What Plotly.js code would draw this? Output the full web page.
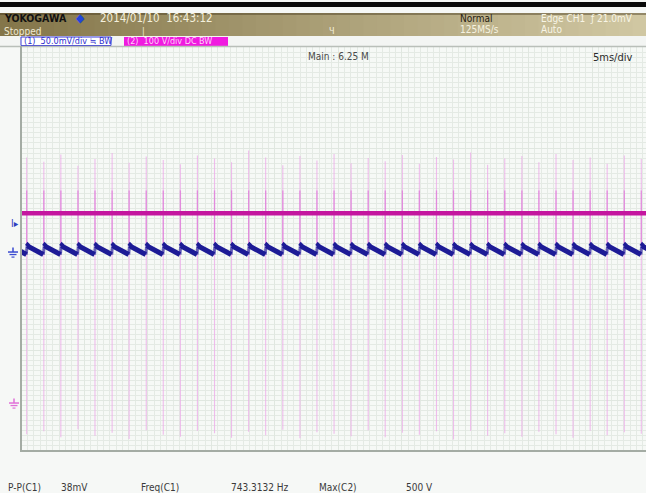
<!DOCTYPE html>
<html>
<head>
<meta charset="utf-8">
<script src="https://cdn.plot.ly/plotly-3.0.1.min.js"></script>
<style>
  html, body { margin: 0; padding: 0; background: #f6f8f6; }
  #scope { width: 646px; height: 493px; }
</style>
</head>
<body>
<div id="scope"></div>
<script>
// ---- Acquisition data ----------------------------------------------------
// Time of each switching event on screen (ms from the left edge of the grid)
const spikeTimes = [0.45, 1.80, 3.14, 4.49, 5.83, 7.18, 8.52, 9.87, 11.21, 12.56,
  13.90, 15.25, 16.59, 17.94, 19.28, 20.63, 21.98, 23.32, 24.67, 26.01,
  27.36, 28.70, 30.05, 31.39, 32.74, 34.08, 35.43, 36.77, 38.12, 39.47,
  40.81, 42.16, 43.50, 44.85, 46.19, 47.54, 48.88];

// CH2 (100 V/div): transient peak and undershoot of each event, in volts
const ch2Peak = [486, 478, 492, 470, 483, 495, 476, 488, 481, 473, 490, 484, 477,
  500, 486, 471, 489, 480, 493, 475, 485, 479, 491, 474, 487, 482, 496, 472,
  484, 489, 477, 493, 481, 486, 474, 490, 483];
const ch2Trough = [-62, -56, -68, -52, -65, -59, -71, -54, -63, -67, -55, -60, -69,
  -57, -64, -53, -70, -58, -61, -66, -54, -68, -59, -63, -56, -72, -55, -65,
  -60, -67, -57, -62, -69, -55, -64, -58, -61];
// CH2 flat level between events (V)
const ch2Level = 376;

// CH1 (50 mV/div): ripple of one switching cycle, offset after the event (ms) and value (mV)
const ch1CycleOffset = [0.02, 0.08, 0.20, 0.45, 0.80, 1.10, 1.31];
const ch1CycleValue  = [5.5, 6.5, 5, 3, 1, -1, -2.5];
// CH1 tail of the cycle preceding the first event
const ch1LeadTime  = [0, 0.43];
const ch1LeadValue = [0.5, -2.5];

// Channel settings
const ch1Scale = 50;      // mV/div
const ch2Scale = 100;     // V/div
const ch1Pos = -0.06;     // div
const ch2Pos = -3.05;     // div
const trigLevel = 21.0;   // mV on CH1
const timeSpan = 49.25;   // ms visible

// Measurement readout
const measLabels = ['P-P(C1)', '38mV', 'Freq(C1)', '743.3132 Hz', 'Max(C2)', '500 V'];

// ---- Build traces --------------------------------------------------------
const toDiv1 = v => v / ch1Scale + ch1Pos;
const toDiv2 = v => v / ch2Scale + ch2Pos;

// CH1 ripple: slow segments drawn solid, fast edges drawn lighter
const c1x = ch1LeadTime.slice(), c1y = ch1LeadValue.map(toDiv1);
const e1x = [], e1y = [];
let prevEnd = ch1LeadValue[ch1LeadValue.length - 1];
spikeTimes.forEach(t => {
  c1x.push(null); c1y.push(null);
  e1x.push(t - 0.03, t + ch1CycleOffset[0], null);
  e1y.push(toDiv1(prevEnd), toDiv1(ch1CycleValue[0]), null);
  ch1CycleOffset.forEach((o, i) => { c1x.push(t + o); c1y.push(toDiv1(ch1CycleValue[i])); });
  prevEnd = ch1CycleValue[ch1CycleValue.length - 1];
});

// CH2 switching transients (faint full excursion + brighter core near the level)
const sx = [], sy = [], cx = [], cy = [];
const lvl = toDiv2(ch2Level);
spikeTimes.forEach((t, i) => {
  sx.push(t, t, null); sy.push(toDiv2(ch2Peak[i]), toDiv2(ch2Trough[i]), null);
  cx.push(t, t, null); cy.push(lvl + 0.45, lvl - 0.6, null);
});

const traces = [
  { x: sx, y: sy, mode: 'lines', line: { color: 'rgba(236,168,232,0.75)', width: 1.1 }, hoverinfo: 'skip' },
  { x: cx, y: cy, mode: 'lines', line: { color: 'rgba(222,122,216,0.75)', width: 1.3 }, hoverinfo: 'skip' },
  { x: e1x, y: e1y, mode: 'lines', line: { color: 'rgba(45,45,160,0.7)', width: 3 }, hoverinfo: 'skip' },
  { x: c1x, y: c1y, mode: 'lines', line: { color: '#1d1b96', width: 5 }, hoverinfo: 'skip' },
  { x: [0, timeSpan], y: [lvl, lvl], mode: 'lines', line: { color: '#c4169f', width: 4.5 }, hoverinfo: 'skip' }
];

// ---- Screen furniture ----------------------------------------------------
const W = 646, H = 493;
const px = x => x / W;
const py = y => (H - y) / H;
const FONT = 'DejaVu Sans Condensed, Liberation Sans Narrow, DejaVu Sans, sans-serif';

const shapes = [];
const annotations = [];

function rect(x0, y0, x1, y1, fill, line) {
  shapes.push({ type: 'rect', xref: 'paper', yref: 'paper', x0: px(x0), x1: px(x1), y0: py(y1), y1: py(y0),
    fillcolor: fill, line: line || { width: 0 }, layer: 'below' });
}
function hline(x0, x1, y, color, w) {
  shapes.push({ type: 'line', xref: 'paper', yref: 'paper', x0: px(x0), x1: px(x1), y0: py(y), y1: py(y),
    line: { color: color, width: w } });
}
function vline(x, y0, y1, color, w) {
  shapes.push({ type: 'line', xref: 'paper', yref: 'paper', x0: px(x), x1: px(x), y0: py(y0), y1: py(y1),
    line: { color: color, width: w } });
}
function txt(text, x, y, size, color, opts) {
  annotations.push(Object.assign({ text: text, xref: 'paper', yref: 'paper', x: px(x), y: py(y),
    xanchor: 'left', yanchor: 'middle', showarrow: false, borderpad: 0,
    font: { family: FONT, size: size, color: color } }, opts || {}));
}

// top rule
rect(0, 2, W, 7, '#0a0a0a');
// status bar with a left-to-right olive gradient
const bands = 48;
const c0 = [132, 118, 74], c1 = [208, 199, 162];
for (let i = 0; i < bands; i++) {
  const f = i / (bands - 1);
  const c = c0.map((v, k) => Math.round(v + (c1[k] - v) * f));
  rect(i * W / bands, 13, (i + 1) * W / bands + 1, 36, 'rgb(' + c.join(',') + ')');
}
rect(0, 13, W, 15, 'rgba(70,58,30,0.45)');
// channel setting row
rect(0, 36, W, 46, '#f3f5f3');
rect(21, 37, 111, 45.5, '#ffffff', { color: '#3a3ad8', width: 1 });
rect(124, 37, 228, 46, '#f01ae0');
// graticule frame
hline(0, W, 46.5, '#b9bfb9', 1.5);
vline(21, 46, 452, '#a4aca4', 2);
hline(20, W, 451, '#a4aca4', 2);

// status bar text
txt('<b>YOKOGAWA</b>', 3, 18.5, 10.5, '#111111');
txt('◆', 75, 18.5, 12, '#2345d8');
txt('2014/01/10  16:43:12', 99, 18, 11.5, '#f4f0dc');
txt('Stopped', 3, 31, 10, '#efe9d2');
txt('|', 141, 31, 9, '#efe9d2');
txt('Ч', 328, 31, 9, '#f4f0dc');
txt('Normal', 459, 18.5, 10, '#262010');
txt('125MS/s', 459, 29.5, 10, '#f6f2e0');
txt('Edge CH1  ƒ 21.0mV', 540, 18.5, 10, '#f8f5e6');
txt('Auto', 540, 29.5, 10, '#f8f5e6');

// channel labels
txt('(1)  50.0mV/div ≒ BW', 23, 41.5, 9, '#2d2dd0');
txt('(2)  100 V/div DC BW', 126, 41.5, 9, '#ffd2f8');

// graticule captions
txt('Main : 6.25 M', 338, 57, 10, '#4a4a4a', { xanchor: 'center' });
txt('5ms/div', 592, 57.5, 11, '#2a2a2a');

// channel markers (positions follow the channel offsets and trigger level)
annotations.push({ text: 'I▸', xref: 'paper', yref: 'y', x: px(9), y: toDiv1(trigLevel), xanchor: 'left', yanchor: 'bottom',
  showarrow: false, font: { family: FONT, size: 10, color: '#2f3fc0' } });
function ground(yDiv, color, xc) {
  const s = { xref: 'paper', yref: 'y', type: 'line' };
  shapes.push(Object.assign({}, s, { x0: px(xc), x1: px(xc), y0: yDiv + 0.09, y1: yDiv, line: { color: color, width: 1.5 } }));
  shapes.push(Object.assign({}, s, { x0: px(xc - 5), x1: px(xc + 5), y0: yDiv, y1: yDiv, line: { color: color, width: 1.5 } }));
  shapes.push(Object.assign({}, s, { x0: px(xc - 3.5), x1: px(xc + 3.5), y0: yDiv - 0.05, y1: yDiv - 0.05, line: { color: color, width: 1.3 } }));
  shapes.push(Object.assign({}, s, { x0: px(xc - 1.5), x1: px(xc + 1.5), y0: yDiv - 0.1, y1: yDiv - 0.1, line: { color: color, width: 1.2 } }));
}
ground(ch1Pos, '#3a4ad0', 13);
ground(ch2Pos, '#e070d8', 14);

// measurement readout
const measX = [7, 60, 140, 230, 318, 405];
measLabels.forEach((m, i) => txt(m, measX[i], 487, 10, '#3a3a3a'));

const layout = {
  width: W, height: H,
  margin: { l: 0, r: 0, t: 0, b: 0 },
  paper_bgcolor: '#f6f8f6',
  plot_bgcolor: '#f6f9f6',
  showlegend: false,
  hovermode: false,
  xaxis: {
    domain: [px(21), 1], range: [0, timeSpan],
    showgrid: true, dtick: 5, gridcolor: '#e0e7e0', gridwidth: 1,
    minor: { dtick: 0.5, showgrid: true, gridcolor: '#e4eae4', gridwidth: 1 },
    zeroline: false, showticklabels: false, ticks: '', showline: false, fixedrange: true
  },
  yaxis: {
    domain: [py(451), py(47)], range: [-4, 4],
    showgrid: true, dtick: 1, gridcolor: '#e0e7e0', gridwidth: 1,
    minor: { dtick: 0.1, showgrid: true, gridcolor: '#e4eae4', gridwidth: 1 },
    zeroline: false, showticklabels: false, ticks: '', showline: false, fixedrange: true
  },
  shapes: shapes,
  annotations: annotations
};

Plotly.newPlot('scope', traces, layout, { displayModeBar: false, staticPlot: true });
</script>
</body>
</html>
